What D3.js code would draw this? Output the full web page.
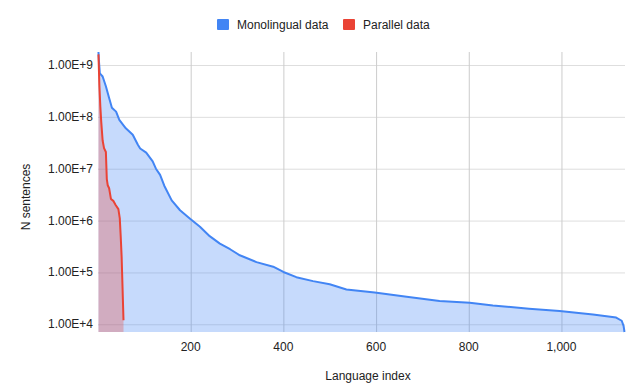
<!DOCTYPE html>
<html>
<head>
<meta charset="utf-8">
<script src="https://cdn.jsdelivr.net/npm/d3@7"></script>
<style>
    body { margin: 0; background: #fff; }
    svg { display: block; font-family: "Liberation Sans", Arial, sans-serif; }
</style>
</head>
<body>
<div id="chart"></div>
<script>
    /**
     * values (language index, N sentences)
     */
    var monoIndex = [1, 2, 4, 10, 17, 24, 30, 39, 46, 60, 75, 86, 91, 104, 118, 125, 134, 143, 159, 177, 198,
        220, 241, 263, 285, 306, 342, 378, 400, 428, 464, 500, 536, 597, 666, 737, 802, 852, 930, 996, 1068,
        1118, 1130, 1134, 1136];
    var monoValue = [1.78e9, 1.2e9, 6.9e8, 6.0e8, 3.9e8, 2.3e8, 1.5e8, 1.26e8, 8.7e7, 6.0e7, 4.5e7, 2.9e7,
        2.45e7, 2.04e7, 1.38e7, 1.0e7, 7.6e6, 4.7e6, 2.45e6, 1.58e6, 1.1e6, 7.6e5, 5.0e5, 3.6e5, 2.8e5,
        2.14e5, 1.58e5, 1.29e5, 1.02e5, 8.1e4, 6.8e4, 5.9e4, 4.7e4, 4.1e4, 3.4e4, 2.8e4, 2.6e4, 2.3e4,
        2.0e4, 1.8e4, 1.55e4, 1.35e4, 1.17e4, 9.3e3, 7.1e3];

    var parIndex = [1, 3, 5, 7, 10, 13, 17, 19, 21, 24, 28, 33, 38, 44, 47, 49, 51, 52, 55];
    var parValue = [1.6e9, 4e8, 1.6e8, 8e7, 3.5e7, 2.5e7, 2.1e7, 6.3e6, 4.8e6, 4.2e6, 2.6e6, 2.4e6,
        2.0e6, 1.66e6, 1.1e6, 5e5, 2e5, 1e5, 1.2e4];

    var xTicks = [200, 400, 600, 800, 1000];
    var yTicks = [1e4, 1e5, 1e6, 1e7, 1e8, 1e9];
    var seriesNames = ['Monolingual data', 'Parallel data'];
    var seriesColors = ['#4285f4', '#ea4335'];

    var width = 640;
    var height = 388;
    var margin = {top: 52, right: 15, bottom: 56, left: 98};
    var innerWidth = width - margin.left - margin.right;
    var innerHeight = height - margin.top - margin.bottom;

    var svg = d3.select('#chart').append('svg')
        .attr('width', width)
        .attr('height', height);

    var g = svg.append('g')
        .attr('transform', 'translate(' + margin.left + ',' + margin.top + ')');

    /**
     * scales
     */
    var x = d3.scaleLinear().domain([0, 1136]).range([0, innerWidth - 0.5]);
    var y = d3.scaleLog().domain([7100, 1.78e9]).range([innerHeight, 0]);

    /**
     * gridlines
     */
    g.append('g')
        .call(d3.axisLeft(y).tickValues(yTicks).tickSize(-innerWidth).tickFormat(''))
        .call(function (sel) {
            sel.select('.domain').remove();
            sel.selectAll('text').remove();
            sel.selectAll('line').attr('stroke', '#dedede');
        });

    g.append('g')
        .attr('transform', 'translate(0,' + innerHeight + ')')
        .call(d3.axisBottom(x).tickValues(xTicks).tickSize(innerHeight).tickFormat(''))
        .call(function (sel) {
            sel.select('.domain').remove();
            sel.selectAll('text').remove();
            sel.selectAll('line').attr('stroke', '#cccccc').attr('transform', 'translate(0,' + (-innerHeight) + ')');
        });

    /**
     * series
     */
    var series = [
        {name: seriesNames[0], color: seriesColors[0], data: d3.zip(monoIndex, monoValue)},
        {name: seriesNames[1], color: seriesColors[1], data: d3.zip(parIndex, parValue)}
    ];

    var area = d3.area()
        .x(function (d) { return x(d[0]); })
        .y0(innerHeight)
        .y1(function (d) { return y(d[1]); });

    var line = d3.line()
        .x(function (d) { return x(d[0]); })
        .y(function (d) { return y(d[1]); });

    series.forEach(function (s) {
        g.append('path')
            .attr('d', area(s.data))
            .attr('fill', s.color)
            .attr('fill-opacity', 0.3);
    });

    series.forEach(function (s) {
        g.append('path')
            .attr('d', line(s.data))
            .attr('fill', 'none')
            .attr('stroke', s.color)
            .attr('stroke-width', 2)
            .attr('stroke-linejoin', 'round');
    });

    /**
     * tick labels
     */
    g.selectAll('.y-label')
        .data(yTicks)
        .enter().append('text')
        .attr('class', 'y-label')
        .attr('x', -5)
        .attr('y', function (d) { return y(d) + 4; })
        .attr('text-anchor', 'end')
        .attr('font-size', 12)
        .attr('fill', '#222')
        .text(function (d) { return '1.00E+' + Math.round(Math.log10(d)); });

    g.selectAll('.x-label')
        .data(xTicks)
        .enter().append('text')
        .attr('class', 'x-label')
        .attr('x', function (d) { return x(d); })
        .attr('y', innerHeight + 19)
        .attr('text-anchor', 'middle')
        .attr('font-size', 12)
        .attr('fill', '#222')
        .text(d3.format(','));

    /**
     * axis titles
     */
    svg.append('text')
        .attr('x', 368)
        .attr('y', 380)
        .attr('text-anchor', 'middle')
        .attr('font-size', 12)
        .attr('fill', '#222')
        .text('Language index');

    svg.append('text')
        .attr('transform', 'translate(30,197) rotate(-90)')
        .attr('text-anchor', 'middle')
        .attr('font-size', 12)
        .attr('fill', '#222')
        .text('N sentences');

    /**
     * legend
     */
    var legendX = [217, 343];
    var legend = svg.selectAll('.legend')
        .data(series)
        .enter().append('g')
        .attr('class', 'legend')
        .attr('transform', function (d, i) { return 'translate(' + legendX[i] + ',19)'; });

    legend.append('rect')
        .attr('width', 12)
        .attr('height', 11)
        .attr('rx', 1)
        .attr('fill', function (d) { return d.color; });

    legend.append('text')
        .attr('x', 20)
        .attr('y', 10)
        .attr('font-size', 12)
        .attr('fill', '#222')
        .text(function (d) { return d.name; });
</script>
</body>
</html>
